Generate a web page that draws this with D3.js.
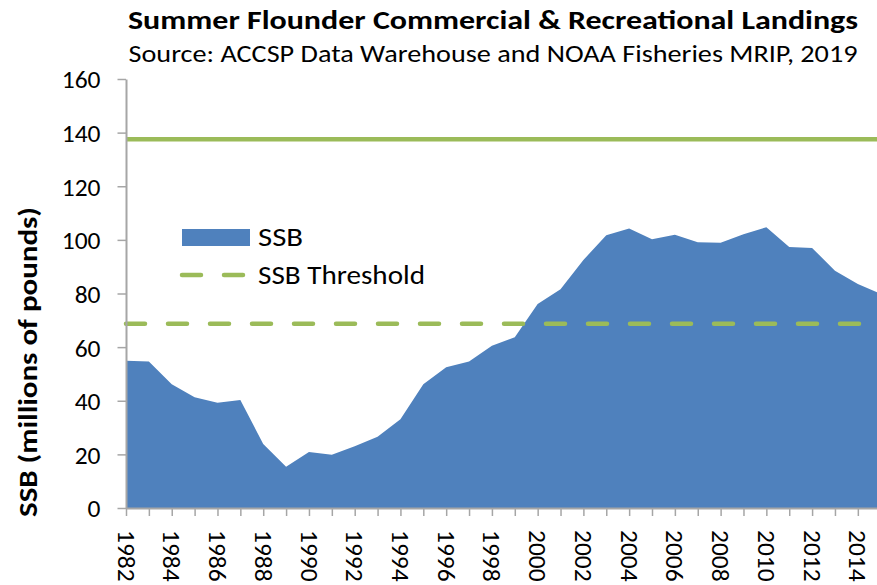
<!DOCTYPE html>
<html>
<head>
<meta charset="utf-8">
<script src="https://cdn.jsdelivr.net/npm/d3@7"></script>
<style>
  html, body { margin: 0; padding: 0; background: #fff; }
  svg { display: block; }
  text { font-family: Carlito, Calibri, Lato, "Open Sans", sans-serif; fill: #000; }
</style>
</head>
<body>
<svg id="chart" width="877" height="585"></svg>
<script>
// Spawning stock biomass (millions of pounds) by year
const years = [1982, 1983, 1984, 1985, 1986, 1987, 1988, 1989, 1990, 1991,
               1992, 1993, 1994, 1995, 1996, 1997, 1998, 1999, 2000, 2001,
               2002, 2003, 2004, 2005, 2006, 2007, 2008, 2009, 2010, 2011,
               2012, 2013, 2014, 2015];
const ssb = [54.9, 54.6, 46.2, 41.3, 39.3, 40.3, 23.9, 15.4, 20.9, 19.9,
             23.0, 26.6, 33.1, 46.2, 52.5, 54.6, 60.5, 63.7, 76.1, 81.6,
             92.5, 101.7, 104.2, 100.2, 101.9, 99.1, 98.9, 102.1, 104.7, 97.3,
             97.0, 88.5, 83.5, 79.9];
// Reference levels
const ssbTarget = 137.5;
const ssbThreshold = 68.75;
const yTicks = [0, 20, 40, 60, 80, 100, 120, 140, 160];

const svg = d3.select("#chart");
const margin = { top: 79, left: 126, bottom: 77 };
const plotW = 754.7;
const plotH = 585 - margin.top - margin.bottom;

const x = d3.scaleLinear().domain([1982, 2015]).range([margin.left, margin.left + plotW]);
const y = d3.scaleLinear().domain([0, 160]).range([margin.top + plotH, margin.top]);

const data = years.map((yr, i) => ({ year: yr, value: ssb[i] }));

// SSB area
svg.append("path")
  .datum(data)
  .attr("fill", "#4f81bd")
  .attr("d", d3.area()
    .x(d => x(d.year))
    .y0(y(0))
    .y1(d => y(d.value)));

// Target line (solid)
svg.append("line")
  .attr("x1", x(1982)).attr("x2", x(2015))
  .attr("y1", y(ssbTarget)).attr("y2", y(ssbTarget))
  .attr("stroke", "#9bbb59").attr("stroke-width", 4.5);

// Threshold line (dashed)
svg.append("line")
  .attr("x1", x(1982)).attr("x2", x(2015))
  .attr("y1", y(ssbThreshold)).attr("y2", y(ssbThreshold))
  .attr("stroke", "#9bbb59").attr("stroke-width", 4.5)
  .attr("stroke-linecap", "round")
  .attr("stroke-dasharray", "19,23");

// Axes
const axisColor = "#a6a6a6";
const yAxis = svg.append("g")
  .attr("transform", `translate(${margin.left},0)`)
  .call(d3.axisLeft(y).tickValues(yTicks).tickSize(8.5).tickSizeOuter(0).tickPadding(17));
yAxis.select(".domain").attr("stroke", axisColor).attr("stroke-width", 2);
yAxis.selectAll(".tick line").attr("stroke", axisColor).attr("stroke-width", 1.5);
yAxis.selectAll(".tick text").style("font-size", "25.5px").attr("dy", "0.35em");

const xAxis = svg.append("g")
  .attr("transform", `translate(0,${y(0)})`)
  .call(d3.axisBottom(x).tickValues(years).tickSize(8).tickSizeOuter(0)
    .tickFormat(d => d % 2 === 0 ? String(d) : ""));
xAxis.select(".domain").attr("stroke", axisColor).attr("stroke-width", 2);
xAxis.selectAll(".tick line").attr("stroke", axisColor).attr("stroke-width", 1.5);
xAxis.selectAll(".tick text")
  .style("font-size", "25.5px")
  .style("text-anchor", "start")
  .attr("transform", "rotate(90)")
  .attr("x", 22).attr("y", 0).attr("dy", "0.35em");

// Titles
svg.append("text")
  .attr("x", 493).attr("y", 29)
  .attr("text-anchor", "middle")
  .style("font-size", "27px").style("font-weight", "bold")
  .attr("textLength", 730).attr("lengthAdjust", "spacingAndGlyphs")
  .text("Summer Flounder Commercial & Recreational Landings");

svg.append("text")
  .attr("x", 493).attr("y", 62)
  .attr("text-anchor", "middle")
  .style("font-size", "25px")
  .attr("textLength", 729).attr("lengthAdjust", "spacingAndGlyphs")
  .text("Source: ACCSP Data Warehouse and NOAA Fisheries MRIP, 2019");

svg.append("text")
  .attr("transform", "translate(37,362) rotate(-90)")
  .attr("text-anchor", "middle")
  .style("font-size", "26px").style("font-weight", "bold")
  .attr("textLength", 310).attr("lengthAdjust", "spacingAndGlyphs")
  .text("SSB (millions of pounds)");

// Legend
const legend = svg.append("g");
legend.append("rect")
  .attr("x", 182).attr("y", 229).attr("width", 68).attr("height", 17)
  .attr("fill", "#4f81bd");
legend.append("text")
  .attr("x", 258).attr("y", 246)
  .style("font-size", "26px")
  .attr("textLength", 45).attr("lengthAdjust", "spacingAndGlyphs")
  .text("SSB");
legend.append("line")
  .attr("x1", 182).attr("x2", 250).attr("y1", 275).attr("y2", 275)
  .attr("stroke", "#9bbb59").attr("stroke-width", 4.5)
  .attr("stroke-linecap", "round")
  .attr("stroke-dasharray", "19,23");
legend.append("text")
  .attr("x", 258).attr("y", 284)
  .style("font-size", "26px")
  .attr("textLength", 167).attr("lengthAdjust", "spacingAndGlyphs")
  .text("SSB Threshold");
</script>
</body>
</html>
